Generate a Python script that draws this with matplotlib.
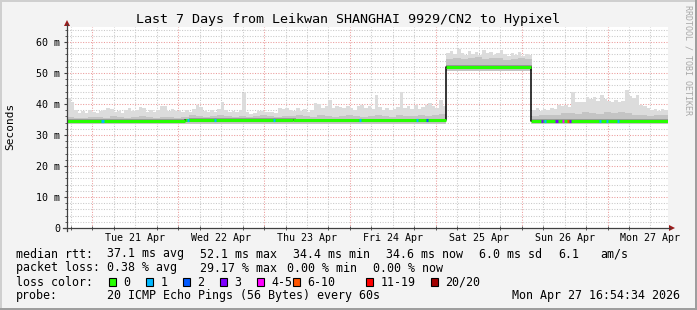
import numpy as np
import matplotlib
matplotlib.use("Agg")
import matplotlib.pyplot as plt
from matplotlib.patches import Rectangle, Polygon
from matplotlib.lines import Line2D

W, H = 697, 310
MONO = "DejaVu Sans Mono"

# time axis: hours since Mon 20 Apr 00:00
t_start = 16.91
t_end = 184.91

day_labels = ["Tue 21 Apr", "Wed 22 Apr", "Thu 23 Apr", "Fri 24 Apr",
              "Sat 25 Apr", "Sun 26 Apr", "Mon 27 Apr"]
day_noon = [36, 60, 84, 108, 132, 156, 180]

# median rtt (ms), piecewise
median_edges = [16.91, 50.0, 80.0, 122.77, 146.6, 184.91]
median_vals = [34.6, 34.9, 34.7, 52.0, 34.6]

# highest ping per hour (ms), first hour starts at t_start
smoke_hi = [
    41.8, 40.5, 38.0, 37.2, 37.8, 37.0, 38.2, 37.5, 37.0, 37.6, 38.0, 38.6,
    38.5, 37.3, 37.8, 37.2, 38.0, 38.8, 37.6, 38.2, 39.0, 38.6, 37.5, 38.0,
    37.4, 38.2, 39.5, 39.2, 37.9, 38.4, 37.6, 37.9, 37.3, 38.0, 37.5, 38.3,
    39.6, 39.0, 37.8, 37.5, 38.0, 37.4, 38.4, 40.5, 38.0, 37.5, 37.9, 37.3,
    38.0, 43.5, 37.5, 36.8, 37.2, 37.9, 37.8, 37.4, 37.3, 37.5, 37.0, 38.6,
    38.4, 38.8, 38.2, 37.6, 38.6, 37.9, 38.3, 37.5, 38.0, 40.2, 40.0, 38.8,
    39.2, 41.3, 38.7, 39.3, 39.0, 38.6, 39.5, 38.8, 38.2, 39.4, 39.8, 38.7,
    39.2, 38.5, 42.8, 39.0, 38.2, 38.8, 38.0, 38.5, 39.0, 44.0, 38.6, 39.2,
    38.4, 39.6, 38.3, 39.0, 39.7, 40.2, 39.4, 38.8, 41.3, 39.4,
    56.4, 57.2, 56.0, 57.8, 56.5, 55.9, 57.0, 56.2, 56.8, 55.8, 57.4, 56.3,
    56.9, 55.7, 56.6, 57.3, 56.0, 55.6, 56.4, 55.9, 56.8, 55.5, 56.2, 55.8,
    38.2, 38.6, 37.9, 38.5, 38.0, 38.8, 38.3, 39.7, 39.4, 39.8, 39.0, 44.0,
    40.7, 40.5, 40.8, 42.4, 41.5, 42.2, 41.0, 43.0, 41.6, 41.0, 40.6, 41.2,
    40.5, 41.0, 44.4, 42.6, 42.0, 42.8, 39.8, 39.5, 38.7, 38.2, 38.5, 37.9,
    38.4, 38.0,
]

# typical spread above the median (ms), per 2-hour bin
smoke_mid = [
    1.2, 1.0, 0.9, 1.1, 1.3, 1.0, 1.4, 1.2, 0.9, 1.1, 1.5, 1.2, 1.0, 1.3,
    1.1, 0.9, 1.2, 1.6, 1.3, 1.0, 1.2, 1.4, 1.1, 0.9, 1.3, 1.0, 1.2, 1.5,
    1.1, 1.0, 1.3, 1.2, 1.6, 1.4, 1.1, 1.8, 1.5, 1.2, 1.4, 1.7, 1.3, 1.1,
    1.5, 1.9, 1.4, 1.2, 1.6, 1.3, 1.5, 1.8, 1.4, 1.6, 2.0,
    2.6, 3.0, 2.4, 2.8, 3.2, 2.5, 2.9, 2.7, 2.3, 2.6, 2.8, 2.4,
    1.5, 1.8, 2.0, 1.7, 2.4, 2.6, 2.2, 2.8, 2.5, 2.3, 2.7, 2.4, 2.9, 2.6,
    2.0, 1.8, 1.6, 1.9, 1.7,
]

# hours with packet loss and their loss bucket
loss_hours = [26.9, 50.7, 58.3, 74.8, 98.8, 114.7, 117.5, 149.7, 150.5,
              153.8, 155.5, 156.9, 157.5, 165.9, 167.8, 170.9]
loss_bucket = [1, 1, 1, 1, 1, 1, 2, 3, 1, 3, 4, 5, 3, 1, 1, 1]

loss_names = ["0", "1", "2", "3", "4-5", "6-10", "11-19", "20/20"]
loss_colors = ["#26ff00", "#00b8ff", "#0059ff", "#7e00ff",
               "#ff00ff", "#ff5500", "#ff0000", "#a10000"]

rtt_stats = ["37.1 ms avg", "52.1 ms max", "34.4 ms min", "34.6 ms now",
             "6.0 ms sd", "6.1", "am/s"]
loss_stats = ["0.38 % avg", "29.17 % max", "0.00 % min", "0.00 % now"]


def fx(x):
    return x / W


def fy(y):
    return 1 - y / H


fig = plt.figure(figsize=(W / 100, H / 100), dpi=100, facecolor="#f3f3f3")

ax = fig.add_axes([fx(67), fy(228), (668 - 67) / W, (228 - 26.5) / H])
ax.set_facecolor("white")
ax.set_xlim(t_start, t_end)
ax.set_ylim(0, 65)
for s in ax.spines.values():
    s.set_visible(False)

# grid
dots = (0, (1, 1.5))
for h in np.arange(18, t_end, 6):
    major = h % 24 == 0
    ax.axvline(h, color="#eb9a9a" if major else "#c8c8c8", lw=0.75, ls=dots, zorder=0)
for v in np.arange(2, 65, 2):
    major = v % 10 == 0
    ax.axhline(v, color="#eb9a9a" if major else "#c8c8c8", lw=0.75, ls=dots, zorder=0)

# smoke
t = t_start + np.arange(len(smoke_hi))
edges = np.append(t, t_end)
med = np.array([median_vals[np.searchsorted(median_edges, x, side="right") - 1] for x in t])
hi = np.append(smoke_hi, smoke_hi[-1])
md = np.append(med, med[-1])
mid = np.repeat(smoke_mid, 2)
mid = np.append(mid, mid[-1])
ax.fill_between(edges, md, hi, step="post", color="#dcdcdc", lw=0, zorder=1)
ax.fill_between(edges, md, md + mid, step="post", color="#c4c4c4", lw=0, zorder=1)
ax.fill_between(edges, md - 1.2, md - 0.4, step="post", color="#c4c4c4", lw=0, zorder=1)
ax.fill_between(edges, md - 0.5, md + 0.5, step="post", color="#9a9a9a", lw=0, zorder=1)

# median line
ax.step(median_edges, median_vals + [median_vals[-1]], where="post",
        color="black", lw=1.1, zorder=2)
ax.hlines(median_vals, median_edges[:-1], median_edges[1:],
          color=loss_colors[0], lw=2.2, zorder=3)
for h, b in zip(loss_hours, loss_bucket):
    y = median_vals[np.searchsorted(median_edges, h, side="right") - 1]
    ax.hlines(y, h - 0.35, h + 0.35, color=loss_colors[b], lw=2.2, zorder=4)

# ticks
ax.set_yticks(np.arange(0, 61, 10))
ax.set_yticklabels(["0"] + ["%d m" % v for v in range(10, 61, 10)])
ax.set_yticks(np.arange(0, 65, 2), minor=True)
ax.set_xticks(day_noon)
ax.set_xticklabels(day_labels)
ax.set_xticks(np.arange(18, t_end, 6), minor=True)
ax.tick_params(axis="y", which="major", length=2.5, width=0.8, color="#404040",
               pad=2.5, labelsize=7.2)
ax.tick_params(axis="y", which="minor", length=1.5, width=0.6, color="#404040")
ax.tick_params(axis="x", which="major", length=0, pad=3.5, labelsize=7.2)
ax.tick_params(axis="x", which="minor", direction="inout", length=3, width=0.6, color="#404040")
for lab in ax.get_xticklabels() + ax.get_yticklabels():
    lab.set_fontfamily(MONO)

# axes with arrows
axis_col = "#404040"
arrow_col = "#9b1b1b"
fig.add_artist(Line2D([fx(67), fx(67)], [fy(231), fy(24)], color=axis_col, lw=0.9))
fig.add_artist(Line2D([fx(63), fx(670)], [fy(228), fy(228)], color=axis_col, lw=0.9))
fig.add_artist(Polygon([[fx(67), fy(20)], [fx(64), fy(26)], [fx(70), fy(26)]],
                       closed=True, color=arrow_col, lw=0))
fig.add_artist(Polygon([[fx(675), fy(228)], [fx(669), fy(225)], [fx(669), fy(231)]],
                       closed=True, color=arrow_col, lw=0))

# frame shading
fig.add_artist(Rectangle((0, fy(2)), 1, 2 / H, color="#cfcfcf", lw=0))
fig.add_artist(Rectangle((0, 0), 2 / W, 1, color="#cfcfcf", lw=0))
fig.add_artist(Rectangle((0, 0), 1, 2 / H, color="#9e9e9e", lw=0))
fig.add_artist(Rectangle((fx(695), 0), 2 / W, 1, color="#9e9e9e", lw=0))

# texts
fig.text(fx(348), fy(19), "Last 7 Days from Leikwan SHANGHAI 9929/CN2 to Hypixel",
         ha="center", va="center", fontsize=9.6, family=MONO)
fig.text(fx(10.5), fy(126), "Seconds", rotation=90, ha="center", va="center",
         fontsize=8, family=MONO)
fig.text(fx(688), fy(5), "RRDTOOL / TOBI OETIKER", rotation=270, ha="center", va="top",
         fontsize=6, family=MONO, color="#a8a8a8")

fs = 8.4
row_y = [254, 268, 282, 296]
fig.text(fx(16), fy(row_y[0]), "median rtt:", ha="left", va="center", fontsize=fs, family=MONO)
for x, s in zip([107, 200, 293, 386, 479, 558, 600], rtt_stats):
    fig.text(fx(x), fy(row_y[0]), s, ha="left", va="center", fontsize=fs, family=MONO)
fig.text(fx(16), fy(row_y[1]), "packet loss:", ha="left", va="center", fontsize=fs, family=MONO)
for x, s in zip([107, 200, 287, 373], loss_stats):
    fig.text(fx(x), fy(row_y[1]), s, ha="left", va="center", fontsize=fs, family=MONO)
fig.text(fx(16), fy(row_y[2]), "loss color:", ha="left", va="center", fontsize=fs, family=MONO)
for x, name, c in zip([109, 146, 183, 220, 257, 293, 366, 431], loss_names, loss_colors):
    fig.add_artist(Rectangle((fx(x), fy(row_y[2] + 4)), 7 / W, 8 / H,
                             facecolor=c, edgecolor="black", lw=0.8))
    fig.text(fx(x + 14.5), fy(row_y[2]), name, ha="left", va="center", fontsize=fs, family=MONO)
fig.text(fx(16), fy(row_y[3]), "probe:", ha="left", va="center", fontsize=fs, family=MONO)
fig.text(fx(107), fy(row_y[3]), "20 ICMP Echo Pings (56 Bytes) every 60s",
         ha="left", va="center", fontsize=fs, family=MONO)
fig.text(fx(680), fy(row_y[3]), "Mon Apr 27 16:54:34 2026",
         ha="right", va="center", fontsize=fs, family=MONO)

fig.savefig("out.png", dpi=100, facecolor=fig.get_facecolor())
